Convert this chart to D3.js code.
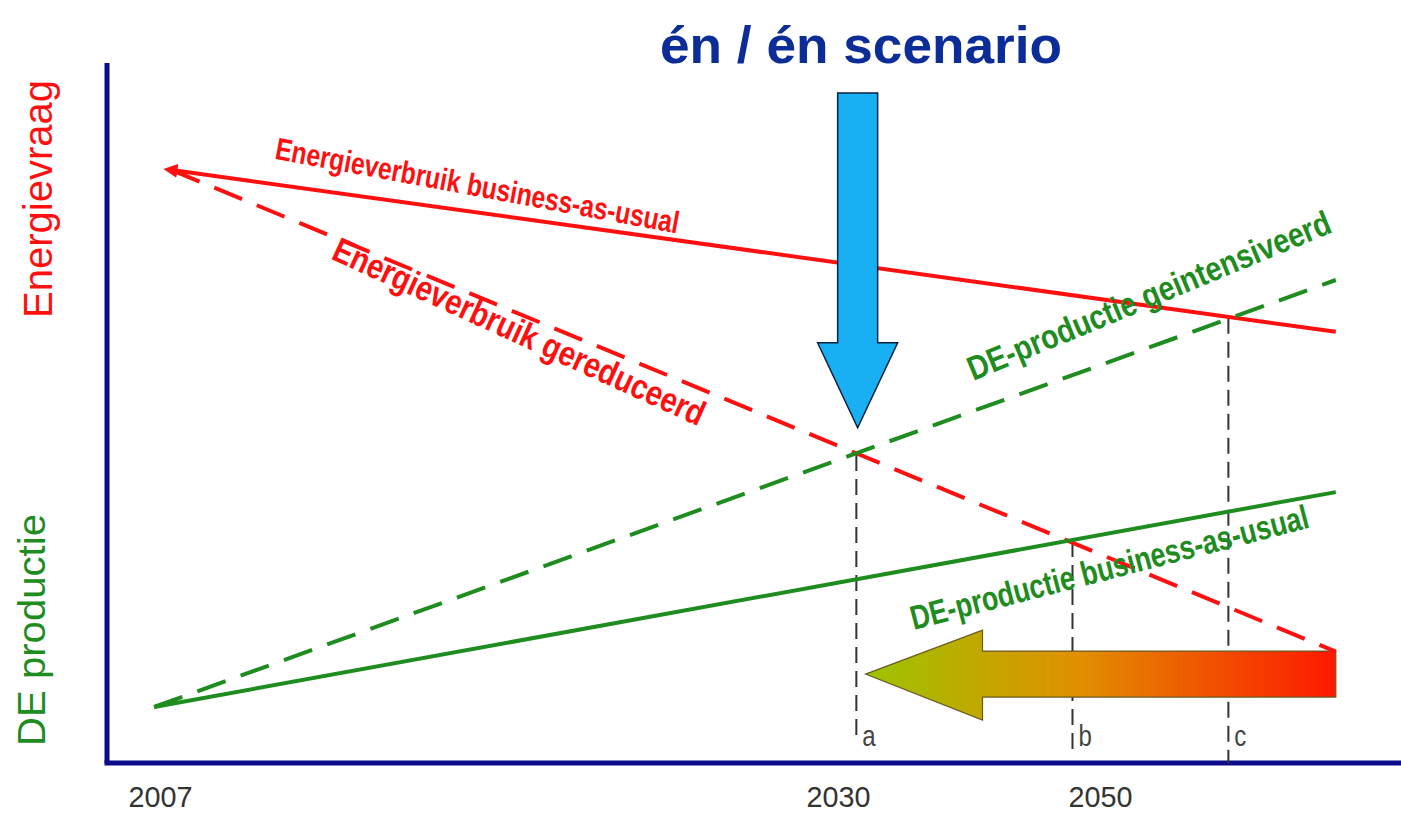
<!DOCTYPE html>
<html>
<head>
<meta charset="utf-8">
<script src="https://cdn.jsdelivr.net/npm/d3@7"></script>
<style>
  body { margin:0; background:#fff; }
  svg text { font-family: "Liberation Sans", Arial, sans-serif; }
</style>
</head>
<body>
<svg id="svg" width="1401" height="814"></svg>
<script>
// schematic years along the x axis
var tickYears = [2007, 2030, 2050];
var tickLabels = ["2007", "2030", "2050"];

// lines: [startYear, startValue], [endYear, endValue]
var lineNames = ["Energieverbruik business-as-usual", "Energieverbruik gereduceerd",
                 "DE-productie business-as-usual", "DE-productie geintensiveerd"];
var lineStart = [[2007.4, 84.7], [2007.4, 84.7], [2006.8, 8.0], [2006.8, 8.0]];
var lineEnd   = [[2068, 61.6], [2068, 15.9], [2068, 38.7], [2068, 69.0]];

// crossing points a, b, c
var crossNames = ["a", "b", "c"];
var crossYears = [2031.4, 2047.9, 2059.8];
var crossValues = [44.0, 31.7, 63.6];

var svg = d3.select('#svg');
var padding = {top:63, left:107, bottom:51};

var xScale = d3.scaleLinear().domain(tickYears).range([160, 838, 1100]);
var yScale = d3.scaleLinear().domain([0, 100]).range([763, 63]);

var red = "#ff1010", green = "#1e8c1e", navy = "#0b0b8c";
var colors = [red, red, green, green];
var dashes = [null, "30,16", null, "30,16"];

// gradient for the horizontal arrow
var defs = svg.append("defs");
var grad = defs.append("linearGradient").attr("id", "grad")
    .attr("x1", "0%").attr("x2", "100%").attr("y1", "0%").attr("y2", "0%");
grad.append("stop").attr("offset", "0%").attr("stop-color", "#9cc400");
grad.append("stop").attr("offset", "45%").attr("stop-color", "#e09000");
grad.append("stop").attr("offset", "100%").attr("stop-color", "#ff1800");

defs.append("marker").attr("id", "redHead")
    .attr("viewBox", "0 0 10 10").attr("refX", 4).attr("refY", 5)
    .attr("markerWidth", 3.5).attr("markerHeight", 3.5).attr("orient", "auto-start-reverse")
    .append("path").attr("d", "M0,0 L10,5 L0,10 z").attr("fill", red);

// axes lines
svg.append("line").attr("x1", padding.left).attr("x2", padding.left)
    .attr("y1", padding.top).attr("y2", 763)
    .attr("stroke", navy).attr("stroke-width", 5);
svg.append("line").attr("x1", padding.left - 2.5).attr("x2", 1401)
    .attr("y1", 763).attr("y2", 763)
    .attr("stroke", navy).attr("stroke-width", 5);

var xAxis = svg.append("g").attr('transform', 'translate(0,783)')
    .call(d3.axisBottom(xScale).tickValues(tickYears).tickSize(0)
        .tickFormat(function(d, i){ return tickLabels[i]; }));
xAxis.select(".domain").remove();
xAxis.selectAll("text").attr("font-size", 30).attr("fill", "#333")
    .attr("textLength", 64).attr("lengthAdjust", "spacingAndGlyphs");

// y labels
svg.append("text").attr("transform", "translate(52,199) rotate(-90)")
    .attr("text-anchor", "middle").attr("font-size", 40).attr("fill", red)
    .attr("textLength", 238).attr("lengthAdjust", "spacingAndGlyphs").text("Energievraag");
svg.append("text").attr("transform", "translate(45,630) rotate(-90)")
    .attr("text-anchor", "middle").attr("font-size", 38).attr("fill", green)
    .attr("textLength", 232).attr("lengthAdjust", "spacingAndGlyphs").text("DE productie");

// vertical dashed lines at crossings
var crossBottom = [735, 752, 763];
svg.selectAll(".vline").data(crossNames).enter().append("line")
    .attr("x1", function(d, i){ return xScale(crossYears[i]); })
    .attr("x2", function(d, i){ return xScale(crossYears[i]); })
    .attr("y1", function(d, i){ return yScale(crossValues[i]); })
    .attr("y2", function(d, i){ return crossBottom[i]; })
    .attr("stroke", "#333").attr("stroke-width", 2).attr("stroke-dasharray", "16,8");

svg.selectAll(".clabel").data(crossNames).enter().append("text")
    .attr("x", function(d, i){ return xScale(crossYears[i]) + 6; })
    .attr("y", 746).attr("font-size", 30).attr("fill", "#444")
    .attr("transform", function(d, i){ var x = xScale(crossYears[i]) + 6; return "translate(" + x + ",0) scale(0.8,1) translate(" + (-x) + ",0)"; })
    .text(function(d){ return d; });

// gradient arrow (right to left)
var gx0 = xScale(2068), gx1 = xScale(2032.1), gy = yScale(12.7);
var headBase = gx1 + 117;
svg.append("path")
    .attr("d", "M" + gx1 + "," + gy + " L" + headBase + "," + (gy - 44) + " L" + headBase + "," + (gy - 23)
        + " L" + gx0 + "," + (gy - 23) + " L" + gx0 + "," + (gy + 23) + " L" + headBase + "," + (gy + 23)
        + " L" + headBase + "," + (gy + 46) + " Z")
    .attr("fill", "url(#grad)").attr("stroke", "#6a5a20").attr("stroke-width", 1.2);

// main lines
svg.selectAll(".mline").data(lineNames).enter().append("line")
    .attr("x1", function(d, i){ return xScale(lineStart[i][0]); })
    .attr("y1", function(d, i){ return yScale(lineStart[i][1]); })
    .attr("x2", function(d, i){ return xScale(lineEnd[i][0]); })
    .attr("y2", function(d, i){ return yScale(lineEnd[i][1]); })
    .attr("stroke", function(d, i){ return colors[i]; })
    .attr("stroke-width", 4)
    .attr("stroke-dasharray", function(d, i){ return dashes[i]; })
    .attr("marker-start", function(d, i){ return i == 0 ? "url(#redHead)" : null; });

// line labels: centre x, centre y, angle, font size, length
var labelPos = [[477, 188, 10.5, 31, 410], [518, 334, 24.5, 35, 405], [1110, 570, -14.5, 34, 410], [1150, 298, -22.5, 34, 390]];
svg.selectAll(".llabel").data(lineNames).enter().append("text")
    .attr("transform", function(d, i){ var p = labelPos[i]; return "translate(" + p[0] + "," + p[1] + ") rotate(" + p[2] + ")"; })
    .attr("text-anchor", "middle").attr("dominant-baseline", "middle")
    .attr("font-size", function(d, i){ return labelPos[i][3]; })
    .attr("textLength", function(d, i){ return labelPos[i][4]; })
    .attr("lengthAdjust", "spacingAndGlyphs")
    .attr("font-weight", "bold")
    .attr("fill", function(d, i){ return colors[i]; })
    .text(function(d){ return d; });

// blue arrow pointing down
var bx = xScale(2031.5), bTop = yScale(95.7), bTip = yScale(47.9);
svg.append("path")
    .attr("d", "M" + (bx - 20) + "," + bTop + " L" + (bx + 20) + "," + bTop + " L" + (bx + 20) + "," + (bTip - 85)
        + " L" + (bx + 40) + "," + (bTip - 85) + " L" + bx + "," + bTip + " L" + (bx - 40) + "," + (bTip - 85)
        + " L" + (bx - 20) + "," + (bTip - 85) + " Z")
    .attr("fill", "#18b0f2").attr("stroke", "#0a2040").attr("stroke-width", 1.5);

svg.append("text").attr("x", 861).attr("y", 63).attr("text-anchor", "middle")
    .attr("font-size", 52).attr("font-weight", "bold").attr("fill", "#0c2c98")
    .attr("textLength", 402).attr("lengthAdjust", "spacingAndGlyphs")
    .text("én / én scenario");
</script>
</body>
</html>
